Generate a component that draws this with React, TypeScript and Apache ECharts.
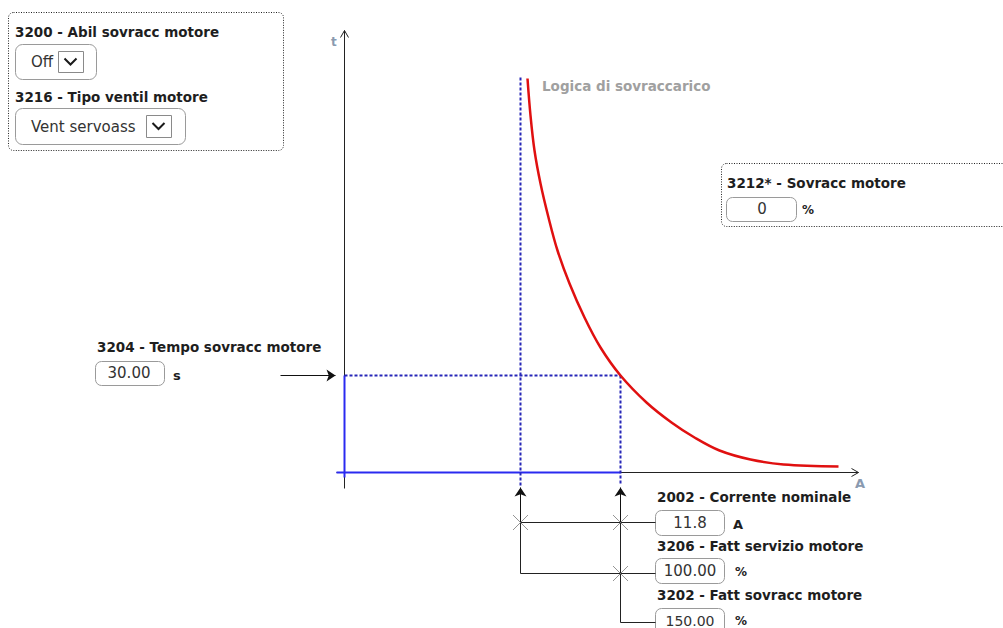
import React, { useEffect, useRef } from "react";
import * as echarts from "echarts";

// Diagram units: 1 unit = 1 px on the page, origin where the t and A axes cross.
const curveCurrent = [183, 186, 190, 196, 204, 213, 225, 240, 256, 276, 302, 327, 350, 375, 406, 439, 494];
const curveTime = [394, 357, 322, 289, 255, 222, 189, 155, 125, 97, 70, 50, 35, 22, 13, 8, 6];
const nominalCurrent = 176;
const overloadCurrent = 276;
const overloadTime = 97;
const curveTopTime = 395;
const axisCurrentEnd = 514;
const axisTimeEnd = 442;
const connectorRows = [-50, -101, -150];
const connectorEnd = 311;

const paramLabels = [
  "3200 - Abil sovracc motore",
  "3216 - Tipo ventil motore",
  "3212* - Sovracc motore",
  "3204 - Tempo sovracc motore",
  "2002 - Corrente nominale",
  "3206 - Fatt servizio motore",
  "3202 - Fatt sovracc motore",
];
const paramValues = ["Off", "Vent servoass", "0", "30.00", "11.8", "100.00", "150.00"];
const paramUnits = ["", "", "%", "s", "A", "%", "%"];

const W = 1003;
const H = 628;
const OX = 344.5;
const OY = 472.5;

const FONT = '"DejaVu Sans", Verdana, sans-serif';
const bold = `bold 13.5px ${FONT}`;
const reg = `15px ${FONT}`;

function seg(data: number[][], color: string, width: number, type: any = "solid", z = 2) {
  return {
    type: "line",
    data,
    symbol: "none",
    silent: true,
    z,
    lineStyle: { color, width, type },
  };
}

function label(text: string, x: number, y: number, font = bold, fill = "#1e1e1e", align = "left") {
  return { type: "text", x, y, silent: true, style: { text, font, fill, align, verticalAlign: "middle" } };
}

function inputBox(x: number, y: number, w: number, h: number, r = 6) {
  return {
    type: "rect",
    shape: { x: x + 0.5, y: y + 0.5, width: w, height: h, r },
    style: { fill: "#fff", stroke: "#9a9a9a", lineWidth: 1 },
  };
}

function dropBtn(x: number, y: number, w: number, h: number) {
  const cx = x + w / 2;
  const cy = y + h / 2;
  return [
    { type: "rect", shape: { x: x + 0.5, y: y + 0.5, width: w, height: h }, style: { fill: "#fff", stroke: "#8a8a8a", lineWidth: 1 } },
    {
      type: "polyline",
      shape: { points: [[cx - 6, cy - 3], [cx, cy + 3], [cx + 6, cy - 3]] },
      style: { stroke: "#1a1a1a", lineWidth: 2, fill: "none" },
    },
  ];
}

function dottedPanel(x: number, y: number, w: number, h: number) {
  return {
    type: "rect",
    shape: { x: x + 0.5, y: y + 0.5, width: w, height: h, r: 5 },
    style: { fill: "none", stroke: "#222", lineWidth: 1, lineDash: [1, 1.5] },
  };
}

export default function App() {
  const ref = useRef<HTMLDivElement>(null);
  useEffect(() => {
    if (!ref.current) return;
    const chart = echarts.init(ref.current, undefined, { renderer: "svg" });
    const curve = curveCurrent.map((c, i) => [c, curveTime[i]]);
    const black = "#222";
    const blue = "#2a2af0";
    const blueDot = "#2626b8";
    const option: any = {
      animation: false,
      grid: { left: 0, right: 0, top: 0, bottom: 0, containLabel: false },
      xAxis: { type: "value", min: -OX, max: W - OX, show: false },
      yAxis: { type: "value", min: -(H - OY), max: OY, show: false },
      series: [
        // axes
        seg([[-8, 0], [axisCurrentEnd, 0]], black, 1),
        seg([[0, -16], [0, axisTimeEnd]], black, 1),
        seg([[axisCurrentEnd - 7, 4], [axisCurrentEnd, 0], [axisCurrentEnd - 7, -4]], black, 1),
        seg([[-4, axisTimeEnd - 7], [0, axisTimeEnd], [4, axisTimeEnd - 7]], black, 1),
        // blue solid
        seg([[-8, 0], [overloadCurrent, 0]], blue, 2, "solid", 3),
        seg([[0, -5], [0, overloadTime]], blue, 2, "solid", 3),
        // blue dotted
        seg([[nominalCurrent, curveTopTime], [nominalCurrent, -13]], blueDot, 2, [3, 2], 3),
        seg([[overloadCurrent, overloadTime], [overloadCurrent, -13]], blueDot, 2, [3, 2], 3),
        seg([[0, overloadTime], [overloadCurrent, overloadTime]], blueDot, 2, [3, 2], 3),
        // red curve
        {
          type: "line",
          data: curve,
          symbol: "none",
          smooth: 0.35,
          z: 4,
          silent: true,
          lineStyle: { color: "#e01010", width: 2.5 },
        },
        // connectors
        seg([[nominalCurrent, connectorRows[0]], [nominalCurrent, connectorRows[1]], [connectorEnd, connectorRows[1]]], black, 1),
        seg([[nominalCurrent, connectorRows[0]], [connectorEnd, connectorRows[0]]], black, 1),
        seg([[overloadCurrent, connectorRows[0]], [overloadCurrent, connectorRows[2]], [connectorEnd, connectorRows[2]]], black, 1),
        // arrows
        {
          type: "lines",
          coordinateSystem: "cartesian2d",
          symbol: ["none", "arrow"],
          symbolSize: 9,
          silent: true,
          z: 5,
          lineStyle: { color: "#111", width: 1, opacity: 1 },
          data: [
            { coords: [[-64, overloadTime], [-9, overloadTime]] },
            { coords: [[nominalCurrent, connectorRows[0]], [nominalCurrent, -15]] },
            { coords: [[overloadCurrent, connectorRows[0]], [overloadCurrent, -15]] },
          ],
        },
        // crossings
        {
          type: "scatter",
          data: [
            [nominalCurrent, connectorRows[0]],
            [overloadCurrent, connectorRows[0]],
            [overloadCurrent, connectorRows[1]],
          ],
          symbol: "path://M0,0L10,10M10,0L0,10",
          symbolSize: 15,
          silent: true,
          z: 6,
          itemStyle: { color: "rgba(0,0,0,0)", borderColor: "#7a7a7a", borderWidth: 1 },
        },
      ],
      graphic: [
        // top-left panel
        dottedPanel(8, 12, 275, 138),
        label(paramLabels[0], 15, 32),
        inputBox(15, 44, 81, 35, 7),
        label(paramValues[0], 31, 62, reg, "#333"),
        ...dropBtn(58, 51, 25, 21),
        label(paramLabels[1], 15, 97),
        inputBox(15, 108, 170, 36, 7),
        label(paramValues[1], 31, 127, reg, "#333"),
        ...dropBtn(146, 115, 25, 22),
        // right panel
        dottedPanel(721, 163, 300, 63),
        label(paramLabels[2], 727, 183),
        inputBox(726, 197, 70, 24),
        label(paramValues[2], 762, 209, reg, "#333", "center"),
        label(paramUnits[2], 802, 210, `bold 12px ${FONT}`),
        // time
        label(paramLabels[3], 97, 347),
        inputBox(95, 361, 69, 24),
        label(paramValues[3], 129, 373, reg, "#333", "center"),
        label(paramUnits[3], 173, 375, `bold 13px ${FONT}`),
        // bottom
        label(paramLabels[4], 657, 497),
        inputBox(655, 510, 69, 25),
        label(paramValues[4], 690, 523, reg, "#333", "center"),
        label(paramUnits[4], 733, 524, `bold 13px ${FONT}`),
        label(paramLabels[5], 657, 546),
        inputBox(655, 558, 69, 25),
        label(paramValues[5], 690, 571, reg, "#333", "center"),
        label(paramUnits[5], 735, 572, `bold 12px ${FONT}`),
        label(paramLabels[6], 657, 595),
        inputBox(655, 608, 69, 30),
        label(paramValues[6], 690, 621, `14px ${FONT}`, "#333", "center"),
        label(paramUnits[6], 735, 621, `bold 12px ${FONT}`),
        // axis names & title
        label("t", 331, 42, `bold 12px ${FONT}`, "#8a9ab0"),
        label("A", 855, 483, `bold 13px ${FONT}`, "#8a9ab0"),
        label("Logica di sovraccarico", 542, 86, bold, "#a0a0a0"),
      ],
    };
    chart.setOption(option);
    return () => chart.dispose();
  }, []);
  return <div ref={ref} style={{ position: "absolute", left: 0, top: 0, width: W, height: H, background: "#fff" }} />;
}
